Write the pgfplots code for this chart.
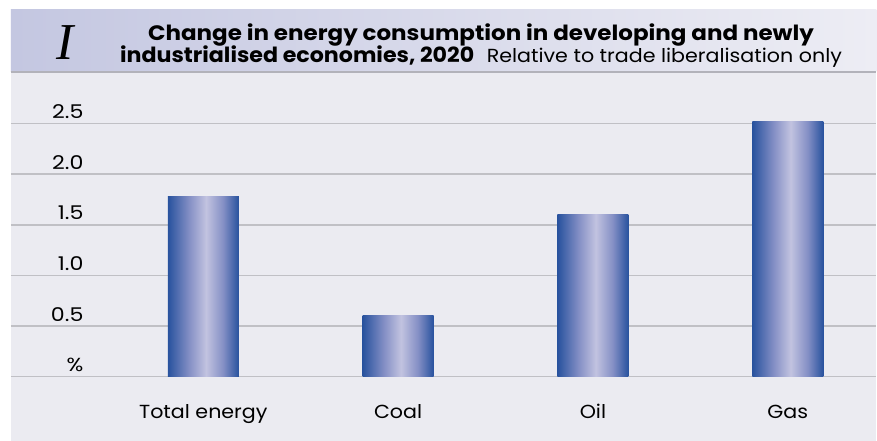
\documentclass[border=0pt]{standalone}
\usepackage{fontspec}
\setmainfont{Poppins}
\newfontfamily\titlefont[FakeStretch=1.1]{Poppins}
\newfontfamily\titlefontb[FakeStretch=1.06]{Poppins}
\newfontfamily\subfont[FakeStretch=1.09]{Poppins}
\newfontfamily\tickfont[FakeStretch=1.17]{Poppins}
\newfontfamily\catfont[FakeStretch=1.09]{Poppins}
\newfontfamily\serifit{Liberation Serif}
\usepackage{pgfplots}
\pgfplotsset{compat=1.18}
\definecolor{bardark}{RGB}{40,82,158}
\definecolor{barmid}{RGB}{132,143,197}
\definecolor{barlight}{RGB}{194,195,224}
\definecolor{bgc}{RGB}{235,235,241}
\definecolor{bandL}{RGB}{196,199,225}
\definecolor{bandR}{RGB}{237,237,244}
\definecolor{linec}{RGB}{178,178,186}
\definecolor{gridc}{RGB}{192,192,197}
\pgfdeclarehorizontalshading{barshade}{100bp}{color(0bp)=(bardark); color(25bp)=(bardark); color(40bp)=(barmid); color(52bp)=(barlight); color(64bp)=(barmid); color(75bp)=(bardark); color(100bp)=(bardark)}
\begin{document}
\begin{tikzpicture}[x=1bp,y=1bp]
\fill[white] (0,0) rectangle (877,441);
\fill[bgc] (11,0) rectangle (877,369);
\shade[left color=bandL, right color=bandR] (11,369) rectangle (877,431);
\draw[linec, line width=1.5bp] (11,369) -- (877,369);
\node[anchor=base, inner sep=0] at (65.5,381) {\serifit\fontsize{52}{52}\selectfont\itshape I};
\node[anchor=base west, inner sep=0] at (148,400) {\titlefont\bfseries\fontsize{21}{21}\selectfont Change in energy consumption in developing and newly};
\node[anchor=base west, inner sep=0] at (120,378) {\titlefontb\bfseries\fontsize{21}{21}\selectfont industrialised economies, 2020};
\node[anchor=base west, inner sep=0] at (487,378) {\subfont\fontsize{19}{19}\selectfont Relative to trade liberalisation only};
\begin{axis}[at={(11bp,64bp)}, anchor=south west, scale only axis,
  width=866bp, height=253.3bp,
  xmin=-0.987, xmax=3.454, ymin=0, ymax=2.5, clip=false,
  axis line style={draw=none}, major tick length=0pt,
  ymajorgrids, grid style={gridc, line width=1.5bp},
  ytick={0,0.5,1,1.5,2,2.5}, yticklabels={\%,0.5,1.0,1.5,2.0,2.5},
  /pgf/number format/assume math mode=true,
  yticklabel style={anchor=base east, xshift=76bp, yshift=5bp, font=\tickfont\fontsize{19}{19}\selectfont},
  xtick={0,1,2,3}, xticklabels={Total energy,Coal,Oil,Gas},
  xticklabel style={anchor=base, yshift=-42bp, font=\catfont\fontsize{19}{19}\selectfont},
  no markers,
  every axis plot/.append style={ybar, bar width=71bp, bar shift=0pt, draw=none, mark=none, shading=barshade},
]
\addplot coordinates {(0,1.78)};
\addplot coordinates {(1,0.60)};
\addplot coordinates {(2,1.60)};
\addplot coordinates {(3,2.52)};
\end{axis}
\end{tikzpicture}
\end{document}
